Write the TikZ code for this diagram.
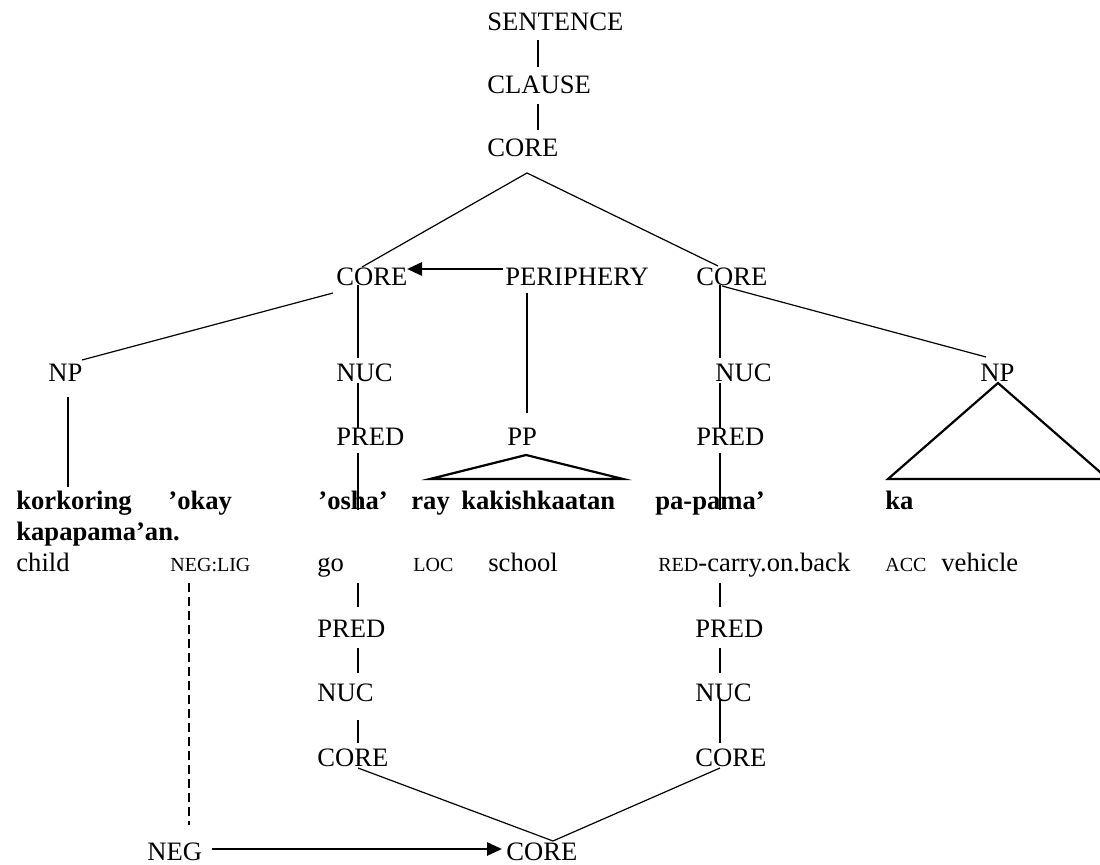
\documentclass[tikz,border=0pt]{standalone}
\usepackage{fontspec}
\setmainfont{Liberation Serif}
\usetikzlibrary{arrows.meta}
% gloss abbreviations set in reduced capitals
\newcommand\glosscaps[1]{{\fontsize{10}{12}\selectfont #1}}
\begin{document}
\begin{tikzpicture}[x=0.5pt,y=-0.5pt,
  lbl/.style={anchor=base west,inner sep=0pt,font=\fontsize{13.3}{16}\selectfont},
  wrd/.style={anchor=base west,inner sep=0pt,font=\fontsize{13.3}{16}\selectfont\bfseries},
  branch/.style={line width=0.6pt},
  roof/.style={line width=1.1pt,line join=miter},
  link/.style={line width=1.4pt,-{Triangle[length=7.5pt,width=6.5pt]}},
  opt/.style={line width=0.6pt,dash pattern=on 4.5pt off 2.5pt}]
\useasboundingbox (0,0) rectangle (1100,865);

% ---- upper tree ----
\node[lbl] (sent)   at (487,31)  {SENTENCE};
\node[lbl] (clause) at (487,94)  {CLAUSE};
\node[lbl] (tcore)  at (487,157) {CORE};

\node[lbl] (lcore)  at (336,286) {CORE};
\node[lbl] (periph) at (505,286) {PERIPHERY};
\node[lbl] (rcore)  at (696,286) {CORE};

\node[lbl] (lnp)    at (48,382)  {NP};
\node[lbl] (lnuc)   at (336,382) {NUC};
\node[lbl] (rnuc)   at (715,382) {NUC};
\node[lbl] (rnp)    at (980,382) {NP};

\node[lbl] (lpred)  at (336,446) {PRED};
\node[lbl] (pp)     at (507,446) {PP};
\node[lbl] (rpred)  at (696,446) {PRED};

% ---- sentence words ----
\node[wrd] (w1) at (16,510)  {korkoring};
\node[wrd] (w2) at (168,510) {’okay};
\node[wrd] (w3) at (318,510) {’osha’};
\node[wrd] (w4) at (411,510) {ray};
\node[wrd] (w5) at (461,510) {kakishkaatan};
\node[wrd] (w6) at (655,510) {pa-pama’};
\node[wrd] (w7) at (885,510) {ka};
\node[wrd] (w8) at (16,541)  {kapapama’an.};

% ---- glosses ----
\node[lbl] (g1) at (16,572)  {child};
\node[lbl] (g2) at (170,572) {\glosscaps{NEG:LIG}};
\node[lbl] (g3) at (317,572) {go};
\node[lbl] (g4) at (413,572) {\glosscaps{LOC}};
\node[lbl] (g5) at (488,572) {school};
\node[lbl] (g6) at (658,572) {\glosscaps{RED}-carry.on.back};
\node[lbl] (g7) at (885,572) {\glosscaps{ACC}};
\node[lbl] (g8) at (941,572) {vehicle};

% ---- lower tree ----
\node[lbl] (lpred2) at (317,638) {PRED};
\node[lbl] (lnuc2)  at (317,702) {NUC};
\node[lbl] (lcore2) at (317,767) {CORE};
\node[lbl] (rpred2) at (695,638) {PRED};
\node[lbl] (rnuc2)  at (695,702) {NUC};
\node[lbl] (rcore2) at (695,767) {CORE};
\node[lbl] (neg)    at (147,861) {NEG};
\node[lbl] (bcore)  at (506,861) {CORE};

% ---- upper branches ----
\draw[branch] ([shift={(51,9)}]sent.base west) -- ([shift={(51,-27)}]clause.base west);
\draw[branch] ([shift={(51,10)}]clause.base west) -- ([shift={(51,-27)}]tcore.base west);
\draw[branch] ([shift={(26,-19)}]lcore.base west) -- ([shift={(40,16)}]tcore.base west)
              -- ([shift={(22,-20)}]rcore.base west);
\draw[link] ([shift={(-2,-17)}]periph.base west) -- ([shift={(71,-17)}]lcore.base west);

\draw[branch] ([shift={(-3,7)}]lcore.base west) -- ([shift={(34,-22)}]lnp.base west);
\draw[branch] ([shift={(22,-1)}]lcore.base west) -- ([shift={(22,-24)}]lnuc.base west);
\draw[branch] ([shift={(22,1)}]lnuc.base west) -- ([shift={(22,-18)}]lpred.base west);
\draw[branch] ([shift={(22,7)}]lpred.base west) -- ([shift={(40,0)}]w3.base west);

\draw[branch] ([shift={(22,7)}]periph.base west) -- ([shift={(20,-33)}]pp.base west);
\draw[roof] ([shift={(19,9)}]pp.base west) -- ([shift={(-77,33)}]pp.base west)
            -- ([shift={(116,33)}]pp.base west) -- cycle;

\draw[branch] ([shift={(24,-1)}]rcore.base west) -- ([shift={(5,-24)}]rnuc.base west);
\draw[branch] ([shift={(5,1)}]rnuc.base west) -- ([shift={(24,-18)}]rpred.base west);
\draw[branch] ([shift={(24,7)}]rpred.base west) -- ([shift={(65,0)}]w6.base west);

\draw[branch] ([shift={(26,0)}]rcore.base west) -- ([shift={(6,-25)}]rnp.base west);
\draw[roof] ([shift={(18,1)}]rnp.base west) -- ([shift={(-92,97)}]rnp.base west)
            -- ([shift={(128,97)}]rnp.base west) -- cycle;

\draw[branch] ([shift={(20,15)}]lnp.base west) -- ([shift={(52,-23)}]w1.base west);

% ---- lower branches ----
\draw[branch] ([shift={(41,11)}]g3.base west) -- ([shift={(41,-31)}]lpred2.base west);
\draw[branch] ([shift={(41,10)}]lpred2.base west) -- ([shift={(41,-29)}]lnuc2.base west);
\draw[branch] ([shift={(41,18)}]lnuc2.base west) -- ([shift={(41,-24)}]lcore2.base west);

\draw[branch] ([shift={(62,11)}]g6.base west) -- ([shift={(25,-31)}]rpred2.base west);
\draw[branch] ([shift={(25,10)}]rpred2.base west) -- ([shift={(25,-29)}]rnuc2.base west);
\draw[branch] ([shift={(25,-2)}]rnuc2.base west) -- ([shift={(25,-24)}]rcore2.base west);

\draw[branch] ([shift={(41,1)}]lcore2.base west) -- ([shift={(47,-20)}]bcore.base west)
              -- ([shift={(25,1)}]rcore2.base west);
\draw[link] ([shift={(65,-12)}]neg.base west) -- ([shift={(-4,-12)}]bcore.base west);
\draw[opt] ([shift={(19,11)}]g2.base west) -- ([shift={(42,-36)}]neg.base west);
\end{tikzpicture}
\end{document}
